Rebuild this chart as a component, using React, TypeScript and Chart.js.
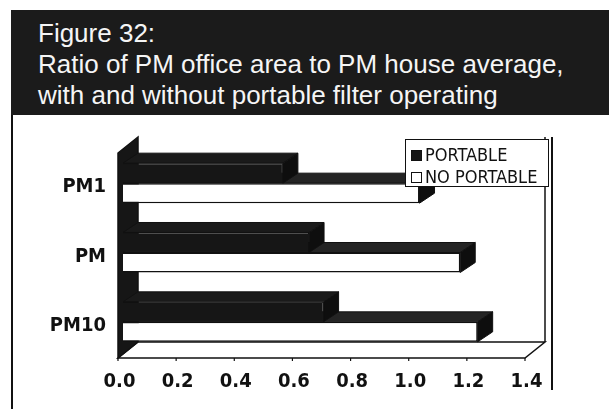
import React, { useEffect, useRef } from 'react';
import { Chart, registerables } from 'chart.js';

Chart.register(...registerables);

// ---- data ----
const categories = ['PM1', 'PM', 'PM10'];
const seriesNames = ['PORTABLE', 'NO PORTABLE'];
const portable = [0.55, 0.64, 0.69];
const noPortable = [1.02, 1.16, 1.22];
const xTicks = [0, 0.2, 0.4, 0.6, 0.8, 1.0, 1.2, 1.4];
const titleLines = [
  'Figure 32:',
  'Ratio of PM office area to PM house average,',
  'with and without portable filter operating',
];

const INK = '#111111';
const DARK = '#161616';
const NARROW = "'DejaVu Sans Condensed', 'Liberation Sans', sans-serif";

// 3D depth of bars and of the plot box
const BDX = 15;
const BDY = 10;
const WDX = 20;
const WDY = 16;
const FRONT_SHIFT_X = -5;

const threeD = {
  id: 'threeD',
  beforeDatasetsDraw(chart: any) {
    const { ctx, chartArea: ca } = chart;
    const xs = chart.scales.x;
    const fx0 = xs.getPixelForValue(xTicks[0]) + FRONT_SHIFT_X;
    const fx1 = xs.getPixelForValue(xTicks[xTicks.length - 1]) + FRONT_SHIFT_X;
    const fy0 = ca.top + 4.5;
    const fy1 = ca.bottom + 1.5;
    ctx.save();
    ctx.lineWidth = 1.5;
    ctx.strokeStyle = INK;
    // floor
    ctx.beginPath();
    ctx.moveTo(fx0, fy1);
    ctx.lineTo(fx1, fy1);
    ctx.lineTo(fx1 + WDX, fy1 - WDY);
    ctx.lineTo(fx0 + WDX, fy1 - WDY);
    ctx.closePath();
    ctx.fillStyle = '#ffffff';
    ctx.fill();
    ctx.stroke();
    // back wall right edge
    ctx.beginPath();
    ctx.moveTo(fx1 + WDX, fy1 - WDY);
    ctx.lineTo(fx1 + WDX, fy0 - WDY);
    ctx.stroke();
    // left wall (dark)
    ctx.beginPath();
    ctx.moveTo(fx0, fy0);
    ctx.lineTo(fx0 + WDX, fy0 - WDY);
    ctx.lineTo(fx0 + WDX, fy1 - WDY);
    ctx.lineTo(fx0, fy1);
    ctx.closePath();
    ctx.fillStyle = DARK;
    ctx.fill();
    ctx.stroke();
    // tick marks on front edge
    ctx.lineWidth = 1.2;
    xTicks.forEach((v) => {
      const px = xs.getPixelForValue(v) + FRONT_SHIFT_X;
      ctx.beginPath();
      ctx.moveTo(px, fy1);
      ctx.lineTo(px, fy1 + 3);
      ctx.stroke();
    });
    ctx.restore();
  },
  afterDatasetDraw(chart: any, args: any) {
    const { ctx } = chart;
    const idx = args.index;
    ctx.save();
    ctx.lineWidth = 1;
    ctx.strokeStyle = INK;
    args.meta.data.forEach((bar: any) => {
      const p = bar.getProps(['x', 'y', 'base', 'height'], true);
      const top = p.y - p.height / 2;
      const bottom = p.y + p.height / 2;
      const x0 = p.base;
      const x1 = p.x;
      // top face
      ctx.beginPath();
      ctx.moveTo(x0, top);
      ctx.lineTo(x1, top);
      ctx.lineTo(x1 + BDX, top - BDY);
      ctx.lineTo(x0 + BDX, top - BDY);
      ctx.closePath();
      ctx.fillStyle = idx === 0 ? '#1a1a1a' : '#242424';
      ctx.fill();
      ctx.stroke();
      // side face
      ctx.beginPath();
      ctx.moveTo(x1, top);
      ctx.lineTo(x1, bottom);
      ctx.lineTo(x1 + BDX, bottom - BDY);
      ctx.lineTo(x1 + BDX, top - BDY);
      ctx.closePath();
      ctx.fillStyle = '#0e0e0e';
      ctx.fill();
      ctx.stroke();
    });
    ctx.restore();
  },
};

export default function App() {
  const canvasRef = useRef<HTMLCanvasElement | null>(null);

  useEffect(() => {
    if (!canvasRef.current) return;
    const chart = new Chart(canvasRef.current, {
      type: 'bar',
      data: {
        labels: categories,
        datasets: [
          {
            label: seriesNames[0],
            data: portable,
            backgroundColor: DARK,
            borderColor: INK,
            borderWidth: 1,
            categoryPercentage: 0.577,
            barPercentage: 1,
          },
          {
            label: seriesNames[1],
            data: noPortable,
            backgroundColor: '#ffffff',
            borderColor: INK,
            borderWidth: 1.5,
            categoryPercentage: 0.577,
            barPercentage: 1,
          },
        ],
      },
      options: {
        indexAxis: 'y',
        animation: false,
        responsive: false,
        events: [],
        layout: { padding: { top: 148.5, right: 79, left: 0, bottom: 0 } },
        plugins: {
          legend: { display: false },
          tooltip: { enabled: false },
          title: { display: false },
        },
        scales: {
          x: {
            type: 'linear',
            min: xTicks[0],
            max: xTicks[xTicks.length - 1],
            afterBuildTicks: (s: any) => {
              s.ticks = xTicks.map((v) => ({ value: v }));
            },
            afterFit: (s: any) => {
              s.height = 52.5;
            },
            grid: { display: false },
            border: { display: false },
            ticks: {
              autoSkip: false,
              maxRotation: 0,
              padding: 5,
              labelOffset: -3.5,
              color: INK,
              font: { family: NARROW, size: 20, weight: 'bold' },
              callback: (v: any) => Number(v).toFixed(1),
            },
          },
          y: {
            type: 'category',
            afterFit: (s: any) => {
              s.width = 123;
            },
            grid: { display: false },
            border: { display: false },
            ticks: {
              padding: 9,
              labelOffset: 4,
              color: INK,
              font: { family: NARROW, size: 20, weight: 'bold' },
            },
          },
        },
      } as any,
      plugins: [threeD],
    });
    return () => chart.destroy();
  }, []);

  const abs = (l: number, t: number, w: number, h: number): React.CSSProperties => ({
    position: 'absolute',
    left: l,
    top: t,
    width: w,
    height: h,
  });

  return (
    <div style={{ ...abs(0, 0, 609, 409), background: '#ffffff', overflow: 'hidden' }}>
      <canvas ref={canvasRef} width={609} height={409} style={{ ...abs(0, 0, 609, 409), display: 'block' }} />
      <div style={{ ...abs(11, 10, 598, 105), background: '#1b1b1b' }}>
        {titleLines.map((t, i) => (
          <div
            key={i}
            style={{
              position: 'absolute',
              left: 27,
              top: 8 + i * 31,
              whiteSpace: 'nowrap',
              color: '#f5f5f5',
              fontFamily: "'Liberation Sans', Arial, sans-serif",
              fontSize: 26,
              lineHeight: '31px',
            }}
          >
            {t}
          </div>
        ))}
      </div>
      <div style={{ ...abs(11, 115, 2, 294), background: INK }} />
      <div style={{ ...abs(551, 137, 2, 253), background: INK }} />
      <div
        style={{
          ...abs(405, 139, 144, 48),
          boxSizing: 'border-box',
          border: '1.5px solid ' + INK,
          background: '#ffffff',
        }}
      >
        {seriesNames.map((name, i) => (
          <div
            key={name}
            style={{
              position: 'absolute',
              left: 5,
              top: 4 + i * 22,
              height: 22,
              display: 'flex',
              alignItems: 'center',
              whiteSpace: 'nowrap',
            }}
          >
            <span
              style={{
                display: 'inline-block',
                width: 11,
                height: 11,
                boxSizing: 'border-box',
                background: i === 0 ? DARK : '#ffffff',
                border: '1px solid ' + INK,
                marginRight: 3,
              }}
            />
            <span
              style={{
                fontFamily: NARROW,
                fontSize: 18,
                color: INK,
                lineHeight: '22px',
              }}
            >
              {name}
            </span>
          </div>
        ))}
      </div>
    </div>
  );
}
